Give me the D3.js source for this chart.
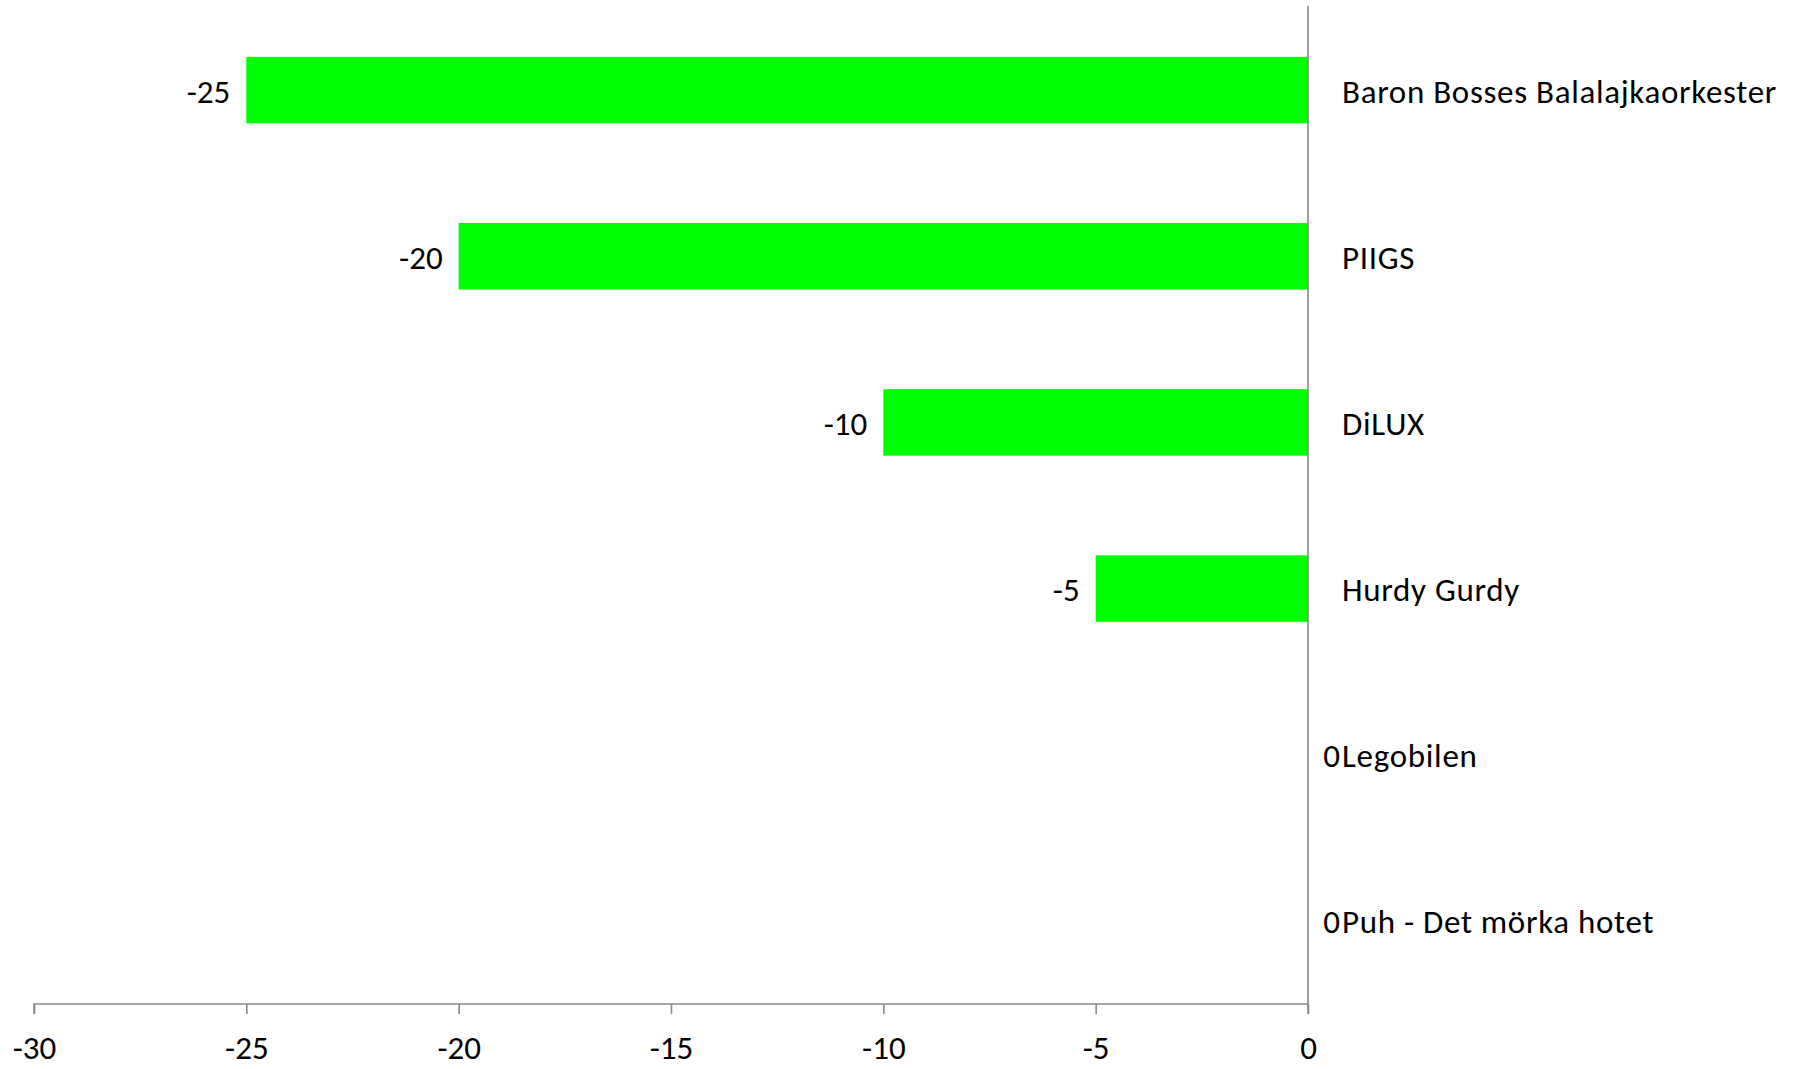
<!DOCTYPE html>
<html><head><meta charset="utf-8">
<script src="https://cdn.jsdelivr.net/npm/d3@7"></script>
<style>body{margin:0;background:#fff;} svg{display:block;}</style>
</head><body>
<script>
const categories = ["Baron Bosses Balalajkaorkester","PIIGS","DiLUX","Hurdy Gurdy","Legobilen","Puh - Det mörka hotet"];
const values = [-25,-20,-10,-5,0,0];
const xTicks = [-30,-25,-20,-15,-10,-5,0];

const W = 1798, H = 1069;
const font = "Carlito, Lato, sans-serif";
const fs = 33;
const svg = d3.select("body").append("svg").attr("width", W).attr("height", H);

const x = d3.scaleLinear().domain([-30, 0]).range([34, 1308]);
const y = d3.scaleBand().domain(categories).range([7, 1004]).paddingInner(0.6).paddingOuter(0.3);

svg.selectAll("rect.bar").data(values).join("rect")
  .attr("fill", "#00FF00")
  .attr("x", d => x(Math.min(d, 0)))
  .attr("width", d => Math.abs(x(d) - x(0)))
  .attr("y", (d, i) => y(categories[i]))
  .attr("height", y.bandwidth());

// x axis
const xAxis = d3.axisBottom(x).tickValues(xTicks).tickSize(10).tickPadding(22).tickFormat(d3.format("d"));
const gx = svg.append("g").attr("transform", "translate(0,1004)").call(xAxis);
gx.select(".domain").attr("stroke", "#898989").attr("stroke-width", 1.6).attr("d", `M${x(-30)},10V0H${x(0)}V10`);
gx.selectAll(".tick line").attr("stroke", "#898989").attr("stroke-width", 1.6);
gx.selectAll(".tick text").attr("font-family", font).attr("font-size", fs).attr("fill", "#000").text(d => d < 0 ? "-" + Math.abs(d) : d);

// vertical axis line
svg.append("line").attr("x1", x(0)).attr("x2", x(0)).attr("y1", 6).attr("y2", 1004)
  .attr("stroke", "#898989").attr("stroke-width", 1.6);

// category labels
svg.selectAll("text.cat").data(categories).join("text")
  .attr("class", "cat")
  .attr("font-family", font).attr("font-size", fs).attr("fill", "#000")
  .attr("letter-spacing", 0.7)
  .attr("x", x(0) + 34)
  .attr("y", d => y(d) + y.bandwidth() / 2)
  .attr("dy", "0.38em")
  .text(d => d);

// value labels
svg.selectAll("text.val").data(values).join("text")
  .attr("class", "val")
  .attr("font-family", font).attr("font-size", fs).attr("fill", "#000")
  .attr("text-anchor", "end")
  .attr("x", d => d < 0 ? x(d) - 16 : x(0) + 32)
  .attr("y", (d, i) => y(categories[i]) + y.bandwidth() / 2)
  .attr("dy", "0.38em")
  .text(d => d < 0 ? "-" + Math.abs(d) : d);
</script>
</body></html>
